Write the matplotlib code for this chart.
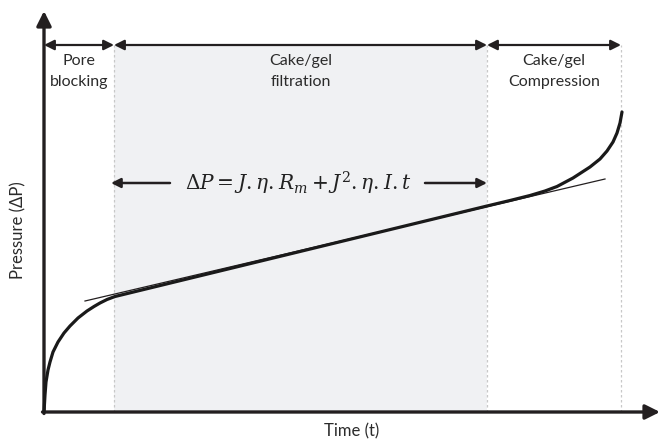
import matplotlib
matplotlib.use("Agg")
import matplotlib.pyplot as plt

# ---- data (time / pressure in arbitrary units) ----
curve_t = [0, 1, 2, 4, 6, 9, 14, 20, 26, 34, 43, 50, 56, 63, 71, 443, 466, 486, 501, 513,
           529, 546, 556, 563, 569, 573, 576, 578]
curve_p = [0, 17, 30, 42, 50, 60, 70, 79, 86, 94, 101, 105.5, 109, 112.5, 115.5, 206, 211.5, 216.5,
           221, 225.5, 234, 245, 253, 261, 270, 279, 289, 300]
tangent_t = [41, 561]
tangent_p = [111, 233]
stage_bounds = [0, 70, 443, 577]
stage_labels = ["Pore\nblocking", "Cake/gel\nfiltration", "Cake/gel\nCompression"]
equation = r"$\Delta P = J.\eta.R_m + J^2.\eta.I.t$"
x_label = "Time (t)"
y_label = "Pressure (\u0394P)"

plt.rcParams['font.family'] = ['Lato', 'DejaVu Sans']
plt.rcParams['mathtext.fontset'] = 'dejavuserif'

fig = plt.figure(figsize=(6.6, 4.44), dpi=100)
ax = fig.add_axes([0, 0, 1, 1])
ax.set_xlim(-44, 616)
ax.set_ylim(-32, 412)
ax.axis('off')

top = 367
dark = '#231f20'

# shaded filtration region
ax.fill_between([stage_bounds[1], stage_bounds[2]], 0, top, color='#f0f1f3', lw=0, zorder=0)
for b in stage_bounds[1:]:
    ax.plot([b, b], [0, top], color='#c8c8c8', lw=0.9, ls=(0, (2, 2)), zorder=1)

# axes arrows
ax.annotate('', xy=(0, 401), xytext=(0, -1.5),
            arrowprops=dict(arrowstyle='-|>', lw=2.4, color=dark, mutation_scale=22,
                            shrinkA=0, shrinkB=0))
ax.annotate('', xy=(616, 0), xytext=(-1.5, 0),
            arrowprops=dict(arrowstyle='-|>', lw=2.4, color=dark, mutation_scale=22,
                            shrinkA=0, shrinkB=0))

# stage arrows and labels
for i in range(3):
    a, b = stage_bounds[i], stage_bounds[i + 1]
    ax.annotate('', xy=(b, top), xytext=(a, top),
                arrowprops=dict(arrowstyle='<|-|>', lw=1.6, color=dark, mutation_scale=15,
                                shrinkA=0, shrinkB=0))
    ax.text((a + b) / 2, top - 9, stage_labels[i], ha='center', va='top',
            fontsize=11.5, color='#2b2b2b', linespacing=1.6)

# equation with arrows
eq_p = 229
ax.text(254, eq_p, equation, ha='center', va='center', fontsize=14.5, color='#222222')
ax.annotate('', xy=(67, eq_p), xytext=(126, eq_p),
            arrowprops=dict(arrowstyle='-|>', lw=1.8, color=dark, mutation_scale=14,
                            shrinkA=0, shrinkB=0))
ax.annotate('', xy=(443, eq_p), xytext=(381, eq_p),
            arrowprops=dict(arrowstyle='-|>', lw=1.8, color=dark, mutation_scale=14,
                            shrinkA=0, shrinkB=0))

# curve and tangent
ax.plot(tangent_t, tangent_p, color=dark, lw=0.9, zorder=3)
ax.plot(curve_t, curve_p, color='#1a1a1a', lw=2.3, zorder=4, solid_capstyle='round')

# axis labels
ax.text(308, -19, x_label, ha='center', va='center', fontsize=12, color='#2b2b2b')
ax.text(-26, 182, y_label, ha='center', va='center', fontsize=12, color='#2b2b2b',
        rotation=90)

fig.savefig('out.png', dpi=100)
